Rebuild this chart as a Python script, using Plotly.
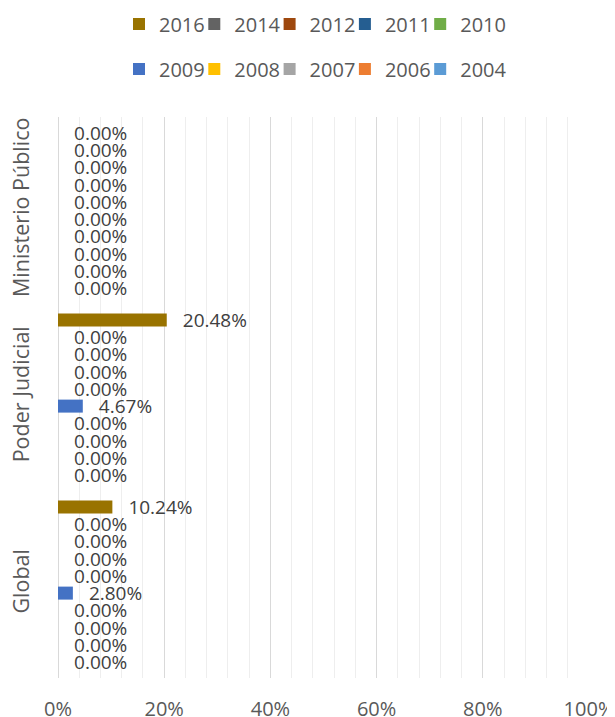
import plotly.graph_objects as go

categories = ["Ministerio Público", "Poder Judicial", "Global"]
series_names = ["2016", "2014", "2012", "2011", "2010", "2009", "2008", "2007", "2006", "2004"]
colors = ["#997300", "#636363", "#9E480E", "#255E91", "#70AD47",
          "#4472C4", "#FFC000", "#A5A5A5", "#ED7D31", "#5B9BD5"]

v2016 = [0.0, 0.2048, 0.1024]
v2014 = [0.0, 0.0, 0.0]
v2012 = [0.0, 0.0, 0.0]
v2011 = [0.0, 0.0, 0.0]
v2010 = [0.0, 0.0, 0.0]
v2009 = [0.0, 0.0467, 0.0280]
v2008 = [0.0, 0.0, 0.0]
v2007 = [0.0, 0.0, 0.0]
v2006 = [0.0, 0.0, 0.0]
v2004 = [0.0, 0.0, 0.0]
series_values = [v2016, v2014, v2012, v2011, v2010, v2009, v2008, v2007, v2006, v2004]

FONT = "Open Sans"
OFF = 8  # default page body margin offsets the figure
W, H = 615 - OFF, 717 - OFF
ML, MR, MT, MB = 58 - OFF, 26, 117 - OFF, 39
PW, PH = W - ML - MR, H - MT - MB

fig = go.Figure()
legend_layouts = {}
for i, (name, vals, col) in enumerate(zip(series_names, series_values, colors)):
    lname = "legend" if i == 0 else f"legend{i + 1}"
    fig.add_trace(go.Bar(
        y=categories, x=vals, name=name, orientation="h",
        marker=dict(color=col, line=dict(width=0)),
        texttemplate="\u00a0\u00a0\u2009%{x:.2%}",
        textposition="outside",
        textfont=dict(family=FONT, size=19, color="#404040"),
        constraintext="none",
        cliponaxis=False,
        legend=lname,
        showlegend=True,
        hoverinfo="skip",
    ))
    row, colidx = divmod(i, 5)
    left_px = 119 + 75.3 * colidx - OFF
    center_y_px = 24 - OFF if row == 0 else 69 - OFF
    legend_layouts[lname] = dict(
        visible=True,
        orientation="h", xanchor="left", yanchor="middle",
        x=(left_px - ML) / PW, y=(MT + PH - center_y_px) / PH,
        font=dict(family=FONT, size=20, color="#595959"),
        bgcolor="rgba(0,0,0,0)", borderwidth=0, itemwidth=30,
    )

fig.update_layout(
    width=W, height=H,
    showlegend=True,
    margin=dict(l=ML, r=MR, t=MT, b=MB, autoexpand=False),
    paper_bgcolor="white", plot_bgcolor="white",
    barmode="group", bargap=0.08, bargroupgap=0.245,
    font=dict(family=FONT, color="#595959"),
    xaxis=dict(
        range=[0, 1], dtick=0.2, tickformat=".0%",
        showgrid=True, gridcolor="#d9d9d9", gridwidth=1,
        zeroline=True, zerolinecolor="#d9d9d9", zerolinewidth=1,
        showline=False, ticks="",
        minor=dict(dtick=0.04, showgrid=True, gridcolor="#eeeeee", gridwidth=1),
        tickfont=dict(family=FONT, size=20, color="#595959"),
        ticklabelstandoff=17, automargin=False,
    ),
    yaxis=dict(
        autorange="reversed", showgrid=False, zeroline=False, showline=False,
        ticks="", tickangle=-90,
        tickfont=dict(family=FONT, size=21.5, color="#595959"),
        ticklabelstandoff=24, automargin=False,
    ),
    **legend_layouts,
)

fig.write_html("out.html")
